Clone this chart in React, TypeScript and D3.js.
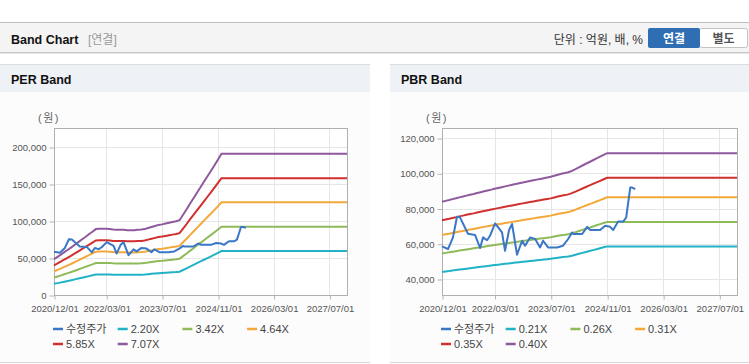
import React, { useRef, useEffect } from 'react';
import * as d3 from 'd3';

// band base dates (monthly, then flat to the end of the axis)
const bandDates = [
  '2020-12-01', '2021-01-01', '2021-02-01', '2021-03-01', '2021-04-01', '2021-05-01', '2021-06-01',
  '2021-07-01', '2021-08-01', '2021-09-01', '2021-10-01', '2021-11-01', '2021-12-01',
  '2022-01-01', '2022-02-01', '2022-03-01', '2022-04-01', '2022-05-01', '2022-06-01',
  '2022-07-01', '2022-08-01', '2022-09-01', '2022-10-01', '2022-11-01', '2022-12-01',
  '2023-01-01', '2023-02-01', '2023-03-01', '2023-04-01', '2023-05-01', '2023-06-01',
  '2023-07-01', '2023-08-01', '2023-09-01', '2023-10-01', '2023-11-01', '2023-12-01',
  '2024-01-01', '2024-02-01', '2024-03-01', '2024-04-01', '2024-05-01', '2024-06-01',
  '2024-07-01', '2024-08-01', '2024-09-01', '2024-10-01', '2024-11-01', '2024-12-01',
  '2027-12-01',
];

// EPS (원)
const epsValues = [
  6850, 7300, 7750, 8200, 8650, 9100, 9600,
  10100, 10600, 11100, 11600, 12100, 12600,
  12650, 12650, 12650, 12600, 12500, 12450,
  12450, 12450, 12400, 12400, 12400, 12450,
  12500, 12600, 12800, 13000, 13200, 13400,
  13500, 13650, 13800, 13950, 14100, 14300,
  15350, 16400, 17450, 18500, 19550, 20600,
  21650, 22700, 23750, 24800, 25900, 27000,
  27000,
];

// BPS (원)
const bpsValues = [
  209500, 210800, 212000, 213300, 214500, 215800, 217000,
  218300, 219500, 220700, 222000, 223200, 224400,
  225600, 226800, 228000, 229200, 230300, 231400,
  232500, 233600, 234700, 235800, 236900, 238000,
  239000, 240000, 241000, 242000, 243000, 244000,
  245000, 246500, 248000, 249300, 250300, 251500,
  253500, 256000, 258500, 261000, 263500, 266000,
  268500, 271000, 273500, 276000, 278500, 278500,
  278500,
];

const perMultiples = [2.2, 3.42, 4.64, 5.85, 7.07];
const perLabels = ['2.20X', '3.42X', '4.64X', '5.85X', '7.07X'];
const pbrMultiples = [0.21, 0.26, 0.31, 0.35, 0.4];
const pbrLabels = ['0.21X', '0.26X', '0.31X', '0.35X', '0.40X'];
const bandColors = ['#21b2c6', '#8fba5a', '#f4a83a', '#d0312e', '#8e5a9d'];
const priceColor = '#3a77c6';
const priceLabel = '수정주가';

// 수정주가
const priceDates = [
  '2020-12-01', '2021-01-22', '2021-03-06', '2021-04-10', '2021-05-06', '2021-07-14',
  '2021-09-13', '2021-10-27', '2021-11-22', '2021-12-26', '2022-01-21', '2022-03-06',
  '2022-05-05', '2022-05-31', '2022-07-05', '2022-07-31', '2022-09-12', '2022-10-26',
  '2022-11-21', '2023-01-03', '2023-02-16', '2023-03-31', '2023-04-26', '2023-06-08',
  '2023-08-25', '2023-10-16', '2023-11-29', '2024-01-02', '2024-01-11', '2024-03-29',
  '2024-05-12', '2024-06-07', '2024-09-01', '2024-10-15', '2024-11-27', '2024-12-23',
  '2025-02-04', '2025-03-20', '2025-04-15', '2025-05-20', '2025-06-06', '2025-07-02',
];
const priceValues = [
  58500, 57000, 63600, 75300, 75000, 65700,
  65000, 57600, 63600, 62000, 64500, 71500,
  66400, 56000, 67800, 71200, 53800, 61700,
  58900, 63600, 62700, 57900, 61700, 57900,
  57900, 58900, 62700, 66400, 65500, 65500,
  69600, 67800, 67800, 70200, 69600, 67800,
  72600, 72600, 74900, 91900, 91900, 91000,
];

const xDomain = ['2020-12-01', '2027-12-01'];
const xTickDates = ['2020-12-01', '2022-03-01', '2023-07-01', '2024-11-01', '2026-03-01', '2027-07-01'];
const perTicks = [0, 50000, 100000, 150000, 200000];
const perDomain = [0, 225700];
const pbrTicks = [40000, 60000, 80000, 100000, 120000];
const pbrDomain = [30900, 125700];

const FONT = '"Liberation Sans", Arial, "Noto Sans CJK KR", sans-serif';
const parse = d3.timeParse('%Y-%m-%d');

function drawPanel(svg, cfg) {
  const { px, pw, title, left, right, top, bottom, domain, ticks, base, multiples, labels } = cfg;
  const g = svg.append('g');

  g.append('rect').attr('x', px).attr('y', 64).attr('width', pw).attr('height', 299).attr('fill', '#fcfcfc');
  g.append('rect').attr('x', px).attr('y', 64).attr('width', pw).attr('height', 28).attr('fill', '#eef2f7');
  g.append('line').attr('x1', px).attr('x2', px + pw).attr('y1', 64.5).attr('y2', 64.5).attr('stroke', '#dcdcdc');
  g.append('line').attr('x1', px).attr('x2', px + pw).attr('y1', 362.5).attr('y2', 362.5).attr('stroke', '#d6d6d6');
  g.append('text').attr('x', px + 11).attr('y', 84).attr('font-family', FONT).attr('font-weight', 'bold')
    .attr('font-size', 12.5).attr('fill', '#111').text(title);

  const x = d3.scaleTime().domain(xDomain.map(parse)).range([left, right]);
  const y = d3.scaleLinear().domain(domain).range([bottom, top]);

  g.append('rect').attr('x', left).attr('y', top).attr('width', right - left).attr('height', bottom - top).attr('fill', '#fff');

  // grid
  g.append('g').selectAll('line').data(ticks).join('line')
    .attr('x1', left).attr('x2', right)
    .attr('y1', d => Math.round(y(d)) + 0.5).attr('y2', d => Math.round(y(d)) + 0.5)
    .attr('stroke', '#e6e6e6');
  g.append('g').selectAll('line').data(xTickDates.map(parse)).join('line')
    .attr('x1', d => Math.round(x(d)) + 0.5).attr('x2', d => Math.round(x(d)) + 0.5)
    .attr('y1', top).attr('y2', bottom)
    .attr('stroke', '#e6e6e6');

  // axes
  const ya = g.append('g').attr('transform', `translate(${left + 0.5},0.5)`)
    .call(d3.axisLeft(y).tickValues(ticks).tickSize(5).tickPadding(3).tickFormat(d3.format(',')));
  ya.select('.domain').remove();
  ya.selectAll('line').attr('stroke', '#b5b5b5');
  ya.selectAll('text').attr('fill', '#555').attr('font-size', 9.5).attr('font-family', FONT);

  const xa = g.append('g').attr('transform', `translate(0.5,${bottom + 0.5})`)
    .call(d3.axisBottom(x).tickValues(xTickDates.map(parse)).tickSize(4).tickPadding(6)
      .tickFormat(d3.timeFormat('%Y/%m/%d')));
  xa.select('.domain').remove();
  xa.selectAll('line').attr('stroke', '#b5b5b5');
  xa.selectAll('text').attr('fill', '#555').attr('font-size', 9.5).attr('font-family', FONT);

  g.append('text').attr('x', left - 5).attr('y', 122).attr('text-anchor', 'middle')
    .attr('font-family', FONT).attr('font-size', 11).attr('fill', '#666').attr('letter-spacing', 1.5).text('(원)');

  // frame
  g.append('rect').attr('x', left + 0.5).attr('y', top + 0.5).attr('width', right - left).attr('height', bottom - top)
    .attr('fill', 'none').attr('stroke', '#b0b0b0');

  const line = d3.line().x(d => x(d.date)).y(d => y(d.value));

  multiples.forEach((m, i) => {
    const pts = bandDates.map((d, k) => ({ date: parse(d), value: base[k] * m }));
    g.append('path').datum(pts).attr('d', line).attr('fill', 'none')
      .attr('stroke', bandColors[i]).attr('stroke-width', 2);
  });

  const price = priceDates.map((d, k) => ({ date: parse(d), value: priceValues[k] }));
  g.append('path').datum(price).attr('d', line).attr('fill', 'none')
    .attr('stroke', priceColor).attr('stroke-width', 2).attr('stroke-linejoin', 'round');

  // legend
  const items = [{ label: priceLabel, color: priceColor }]
    .concat(labels.map((l, i) => ({ label: l, color: bandColors[i] })));
  const lg = g.append('g').selectAll('g').data(items).join('g')
    .attr('transform', (d, i) => `translate(${left - 1 + (i % 4) * 64.7},${329 + Math.floor(i / 4) * 15})`);
  lg.append('line').attr('x1', 0).attr('x2', 10).attr('y1', 0).attr('y2', 0)
    .attr('stroke', d => d.color).attr('stroke-width', 2.5);
  lg.append('text').attr('x', 13).attr('y', 4).attr('font-family', FONT).attr('font-size', 11)
    .attr('fill', '#444').text(d => d.label);
}

function drawHeader(svg) {
  const g = svg.append('g');
  g.append('rect').attr('x', 0).attr('y', 22).attr('width', 749).attr('height', 31).attr('fill', '#f4f4f4');
  g.append('line').attr('x1', 0).attr('x2', 749).attr('y1', 22.5).attr('y2', 22.5).attr('stroke', '#bdbdbd');
  g.append('line').attr('x1', 0).attr('x2', 749).attr('y1', 52.5).attr('y2', 52.5).attr('stroke', '#c4c4c4');
  g.append('line').attr('x1', 0).attr('x2', 749).attr('y1', 53.5).attr('y2', 53.5).attr('stroke', '#e6e6e6');
  g.append('text').attr('x', 11).attr('y', 44).attr('font-family', FONT).attr('font-weight', 'bold')
    .attr('font-size', 12.5).attr('fill', '#111').text('Band Chart');
  g.append('text').attr('x', 88).attr('y', 44).attr('font-family', FONT)
    .attr('font-size', 12).attr('fill', '#999').text('[연결]');
  g.append('text').attr('x', 643).attr('y', 44).attr('text-anchor', 'end').attr('font-family', FONT)
    .attr('font-size', 12).attr('fill', '#333').text('단위 : 억원, 배, %');

  g.append('rect').attr('x', 699.5).attr('y', 28.5).attr('width', 48).attr('height', 19).attr('rx', 2)
    .attr('fill', '#fff').attr('stroke', '#c2c2c2');
  g.append('rect').attr('x', 648).attr('y', 28).attr('width', 52).attr('height', 20).attr('rx', 2)
    .attr('fill', '#2f6eb3');
  g.append('text').attr('x', 674).attr('y', 42.5).attr('text-anchor', 'middle').attr('font-family', FONT)
    .attr('font-weight', 'bold').attr('font-size', 12).attr('fill', '#fff').text('연결');
  g.append('text').attr('x', 723.5).attr('y', 42.5).attr('text-anchor', 'middle').attr('font-family', FONT)
    .attr('font-weight', 'bold').attr('font-size', 12).attr('fill', '#555').text('별도');
}

export default function App() {
  const ref = useRef(null);
  useEffect(() => {
    if (!ref.current) return;
    const svg = d3.select(ref.current);
    svg.selectAll('*').remove();
    drawHeader(svg);
    drawPanel(svg, {
      px: 0, pw: 370, title: 'PER Band', left: 54, right: 347, top: 128, bottom: 295,
      domain: perDomain, ticks: perTicks, base: epsValues, multiples: perMultiples, labels: perLabels,
    });
    drawPanel(svg, {
      px: 390, pw: 359, title: 'PBR Band', left: 442, right: 737, top: 128, bottom: 295,
      domain: pbrDomain, ticks: pbrTicks, base: bpsValues, multiples: pbrMultiples, labels: pbrLabels,
    });
  }, []);
  return (
    <svg ref={ref} width={749} height={364}
      style={{ position: 'absolute', left: 0, top: 0, background: '#fff' }} />
  );
}
